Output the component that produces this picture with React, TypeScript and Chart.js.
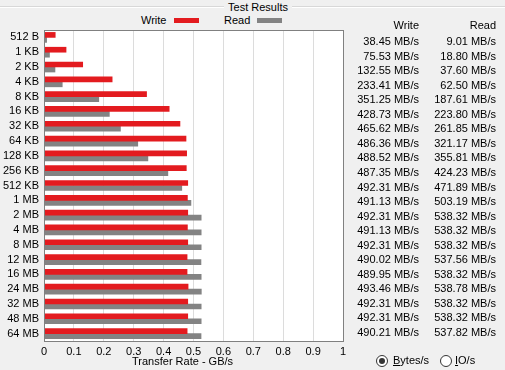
import React, { useEffect, useRef } from "react";
import { Chart, registerables } from "chart.js";

Chart.register(...registerables);

const categories = [
  "512 B", "1 KB", "2 KB", "4 KB", "8 KB", "16 KB", "32 KB", "64 KB", "128 KB", "256 KB",
  "512 KB", "1 MB", "2 MB", "4 MB", "8 MB", "12 MB", "16 MB", "24 MB", "32 MB", "48 MB", "64 MB",
];
const writeMBs = [
  38.45, 75.53, 132.55, 233.41, 351.25, 428.73, 465.62, 486.36, 488.52, 487.35,
  492.31, 491.13, 492.31, 491.13, 492.31, 490.02, 489.95, 493.46, 492.31, 492.31, 490.21,
];
const readMBs = [
  9.01, 18.8, 37.6, 62.5, 187.61, 223.8, 261.85, 321.17, 355.81, 424.23,
  471.89, 503.19, 538.32, 538.32, 538.32, 537.56, 538.32, 538.78, 538.32, 538.32, 537.82,
];
const xTickLabels = ["0", "0.1", "0.2", "0.3", "0.4", "0.5", "0.6", "0.7", "0.8", "0.9", "1"];

const FONT = "'Liberation Sans', Tahoma, Arial, sans-serif";
const RED = "#e31b1f";
const GRAY = "#838383";

const frame = {
  id: "frame",
  beforeDraw(chart: any) {
    const { ctx, chartArea: a } = chart;
    ctx.save();
    ctx.fillStyle = "#ffffff";
    ctx.fillRect(a.left, a.top, a.right - a.left, a.bottom - a.top);
    ctx.restore();
  },
  afterDraw(chart: any) {
    const { ctx, chartArea: a } = chart;
    ctx.save();
    ctx.strokeStyle = "#808080";
    ctx.lineWidth = 1;
    ctx.strokeRect(a.left + 0.5, a.top + 0.5, a.right - a.left, a.bottom - a.top);
    ctx.restore();
  },
};

export default function App() {
  const ref = useRef<HTMLCanvasElement | null>(null);

  useEffect(() => {
    if (!ref.current) return;
    const chart = new Chart(ref.current, {
      type: "bar",
      data: {
        labels: categories,
        datasets: [
          { label: "Write", data: writeMBs.map((v) => v / 1024), backgroundColor: RED, barThickness: 5, borderWidth: 0 },
          { label: "Read", data: readMBs.map((v) => v / 1024), backgroundColor: GRAY, barThickness: 5, borderWidth: 0 },
        ],
      },
      options: {
        indexAxis: "y",
        animation: false,
        responsive: false,
        devicePixelRatio: 1,
        layout: { padding: { left: 0, top: 30, right: 162, bottom: 0 } },
        plugins: { legend: { display: false }, tooltip: { enabled: false }, title: { display: false } },
        scales: {
          x: {
            type: "linear",
            min: 0,
            max: 1,
            afterFit: (s: any) => { s.height = 29; },
            grid: { color: "#dcdcdc", drawTicks: false },
            border: { display: false },
            ticks: {
              stepSize: 0.1,
              padding: 4,
              color: "#000",
              font: { family: FONT, size: 11 },
              callback: (_v: any, i: number) => xTickLabels[i],
            },
          },
          y: {
            afterFit: (s: any) => { s.width = 44; },
            grid: { display: false, drawTicks: false, tickLength: 0 },
            border: { display: false },
            ticks: { padding: 5, color: "#000", font: { family: FONT, size: 11 }, autoSkip: false },
          },
        },
      },
      plugins: [frame],
    });
    return () => chart.destroy();
  }, []);

  const text: React.CSSProperties = {
    position: "absolute",
    font: `11px ${FONT}`,
    lineHeight: "13px",
    color: "#000",
    whiteSpace: "nowrap",
  };

  return (
    <div style={{ position: "absolute", left: 0, top: 0, width: 505, height: 370, background: "#f0f0f0", overflow: "hidden" }}>
      <div style={{ position: "absolute", left: 0, top: 6, width: 505, height: 1, background: "#d8d8d8" }} />
      <div style={{ position: "absolute", left: 0, top: 7, width: 505, height: 1, background: "#ffffff" }} />
      <div style={{ ...text, left: 224, top: 1, width: 68, textAlign: "center", background: "#f0f0f0" }}>Test Results</div>

      <div style={{ ...text, left: 141, top: 14 }}>Write</div>
      <div style={{ position: "absolute", left: 174, top: 18, width: 25, height: 5, background: RED }} />
      <div style={{ ...text, left: 224, top: 14 }}>Read</div>
      <div style={{ position: "absolute", left: 257, top: 18, width: 25, height: 5, background: GRAY }} />

      <canvas ref={ref} width={505} height={370} style={{ position: "absolute", left: 0, top: 0, width: 505, height: 370 }} />

      <div style={{ ...text, right: 86, top: 19, textAlign: "right" }}>Write</div>
      <div style={{ ...text, right: 9, top: 19, textAlign: "right" }}>Read</div>
      {categories.map((c, i) => (
        <React.Fragment key={c}>
          <div style={{ ...text, right: 86, top: 35.2 + i * 14.53, textAlign: "right" }}>{writeMBs[i].toFixed(2)} MB/s</div>
          <div style={{ ...text, right: 9, top: 35.2 + i * 14.53, textAlign: "right" }}>{readMBs[i].toFixed(2)} MB/s</div>
        </React.Fragment>
      ))}

      <div style={{ ...text, left: 132, top: 355, width: 98, textAlign: "center" }}>Transfer Rate - GB/s</div>

      <div style={{ position: "absolute", left: 376, top: 355, width: 10, height: 10, borderRadius: "50%", border: "1px solid #333", background: "#fff" }}>
        <div style={{ position: "absolute", left: 2, top: 2, width: 6, height: 6, borderRadius: "50%", background: "#333" }} />
      </div>
      <div style={{ ...text, left: 393, top: 354 }}><span style={{ textDecoration: "underline" }}>B</span>ytes/s</div>
      <div style={{ position: "absolute", left: 440, top: 355, width: 10, height: 10, borderRadius: "50%", border: "1px solid #333", background: "#fff" }} />
      <div style={{ ...text, left: 455, top: 354 }}><span style={{ textDecoration: "underline" }}>I</span>O/s</div>
    </div>
  );
}
